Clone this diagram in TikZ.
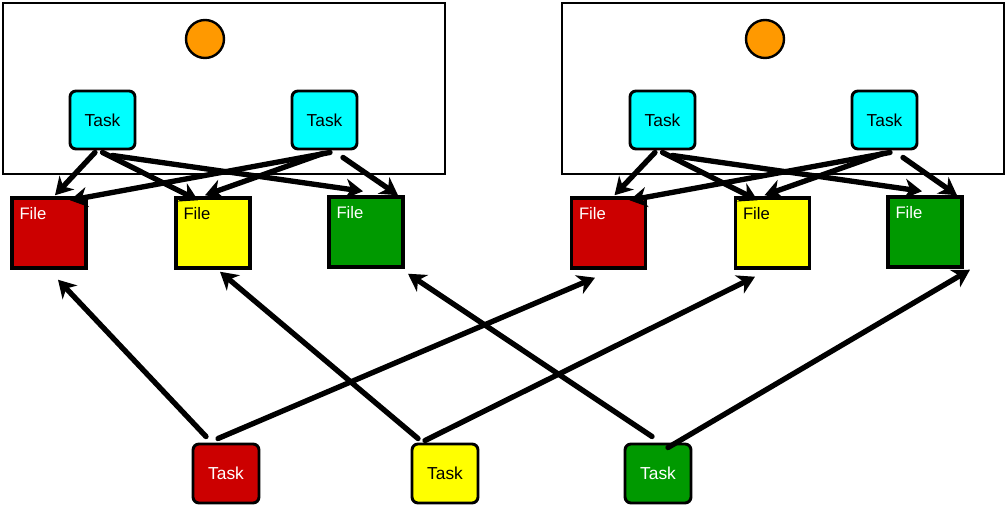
\documentclass[tikz,border=0pt]{standalone}
\usepackage{fontspec}
\setmainfont{Liberation Sans}
\usetikzlibrary{arrows.meta,calc}
\newlength\upx
\setlength\upx{0.75pt}
\definecolor{taskcyan}{HTML}{00FFFF}
\definecolor{dotorange}{HTML}{FF9900}
\definecolor{fred}{HTML}{CC0000}
\definecolor{fyellow}{HTML}{FFFF00}
\definecolor{fgreen}{HTML}{009900}
\tikzset{
  container/.style={draw=black,line width=2pt,fill=white},
  dot/.style={circle,draw=black,line width=1.8pt,fill=dotorange,minimum size=38\upx,inner sep=0pt},
  taskbox/.style={draw=black,line width=2.2pt,rounded corners=6\upx,minimum width=65\upx,minimum height=58\upx,inner sep=0pt,font=\fontsize{13}{15}\selectfont},
  filebox/.style={draw=black,line width=2.6pt,minimum width=74\upx,minimum height=70\upx,inner sep=0pt},
  filetext/.style={anchor=north west,inner sep=0pt,xshift=9\upx,yshift=-11\upx,font=\fontsize{12.5}{14}\selectfont},
  arr/.style={line width=4pt,line cap=round,-{Stealth[length=13pt,width=15pt,inset=4pt]}}
}
\begin{document}
\begin{tikzpicture}[x=0.75pt,y=-0.75pt]
\useasboundingbox (0,0) rectangle (1007,505);

% two processes, each with a dot and two tasks
\draw[container] (3,3) rectangle (445,174);
\draw[container] (562,3) rectangle (1004,174);
\node[dot] (d1) at (205,39) {};
\node[dot] (d2) at (765,39) {};
\node[taskbox,fill=taskcyan] (tA) at (102.5,120) {Task};
\node[taskbox,fill=taskcyan] (tB) at (324.5,120) {Task};
\node[taskbox,fill=taskcyan] (tC) at (662.5,120) {Task};
\node[taskbox,fill=taskcyan] (tD) at (884.5,120) {Task};

% files
\node[filebox,fill=fred] (fR) at (49,233) {};
\node[filebox,fill=fyellow] (fY) at (213,233) {};
\node[filebox,fill=fgreen] (fG) at (366,232) {};
\node[filebox,fill=fred] (fR2) at (608.5,233) {};
\node[filebox,fill=fyellow] (fY2) at (772.5,233) {};
\node[filebox,fill=fgreen] (fG2) at (925,232) {};
\node[filetext,text=white] at (fR.north west) {File};
\node[filetext,text=black] at (fY.north west) {File};
\node[filetext,text=white] at (fG.north west) {File};
\node[filetext,text=white] at (fR2.north west) {File};
\node[filetext,text=black] at (fY2.north west) {File};
\node[filetext,text=white] at (fG2.north west) {File};

% bottom tasks
\node[taskbox,fill=fred,text=white,minimum width=66\upx,minimum height=59\upx] (bR) at (226,473.5) {Task};
\node[taskbox,fill=fyellow,text=black,minimum width=66\upx,minimum height=59\upx] (bY) at (445,473.5) {Task};
\node[taskbox,fill=fgreen,text=white,minimum width=66\upx,minimum height=59\upx] (bG) at (658,473.5) {Task};

% tasks in each process write to every file of that process
\foreach \a/\b/\r/\y/\g in {tA/tB/fR/fY/fG, tC/tD/fR2/fY2/fG2} {
  \draw[arr] ($(\a.south)+(-7.5,2)$) -- ($(\r.north)+(6,-1)$);
  \draw[arr] ($(\a.south)+(0,2)$) -- ($(\y.north)+(-15,4)$);
  \draw[arr] ($(\a.south)+(10,5)$) -- ($(\g.north)+(-3,-4)$);
  \draw[arr] ($(\b.south)+(5.5,2)$) -- ($(\r.north)+(21,4)$);
  \draw[arr] ($(\b.south)+(-1.5,3)$) -- ($(\y.north)+(-8,-1)$);
  \draw[arr] ($(\b.south)+(18.5,7)$) -- ($(\g.north)+(32,0)$);
}

% bottom tasks read the files of matching colour
\draw[arr] ($(bR.north)+(-20,-6)$) -- ($(fR.south)+(9,10)$);
\draw[arr] ($(bR.north)+(-8,-4)$) -- ($(fR2.south)+(-13.5,8)$);
\draw[arr] ($(bY.north)+(-27,-4)$) -- ($(fY.south)+(7,2)$);
\draw[arr] ($(bY.north)+(-20,-2)$) -- ($(fY2.south)+(-17.5,7)$);
\draw[arr] ($(bG.north)+(-6,-6)$) -- ($(fG.south)+(42,5)$);
\draw[arr] ($(bG.north)+(10,5)$) -- ($(fG2.south)+(45,1)$);
\end{tikzpicture}
\end{document}
